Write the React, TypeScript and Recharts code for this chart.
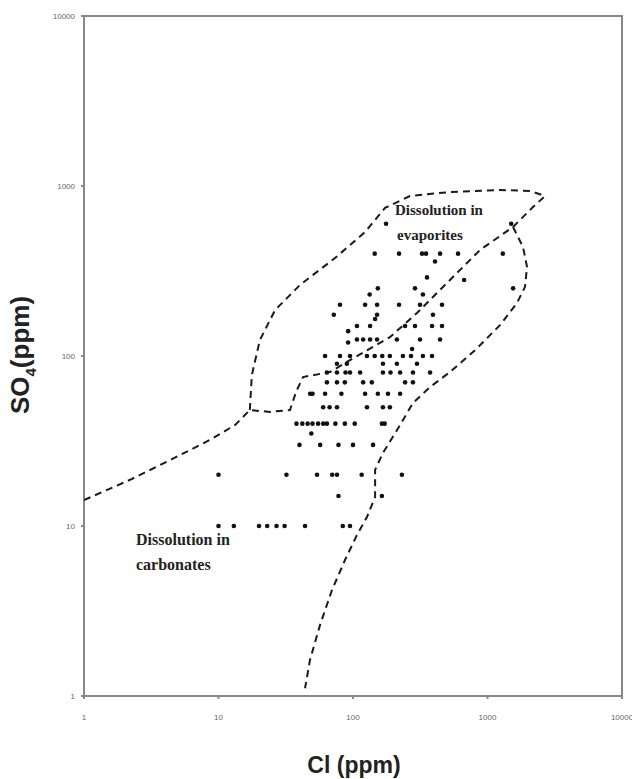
import React from "react"
import { ScatterChart, Scatter, XAxis, YAxis, ReferenceArea } from "recharts"

// sulfate level (ppm) -> chloride values (ppm) measured at that level
const sampleRows: [number, number[]][] = [
  [600, [176, 1500]],
  [400, [145, 220, 326, 349, 444, 604, 1300]],
  [360, [407]],
  [290, [355]],
  [280, [670]],
  [250, [153, 289, 1550]],
  [230, [133, 331]],
  [200, [80, 123, 151, 220, 315, 459]],
  [175, [72, 151, 393]],
  [165, [146]],
  [150, [107, 134, 244, 289, 387, 459]],
  [140, [92]],
  [125, [107, 119, 134, 151, 212, 315, 444]],
  [120, [92]],
  [110, [275]],
  [100, [62, 80, 95, 127, 145, 165, 188, 235, 270, 331, 387]],
  [90, [76, 90, 167, 212, 299]],
  [80, [64, 76, 88, 95, 113, 167, 190, 224, 279, 374]],
  [70, [64, 76, 87, 119, 138, 244, 279]],
  [60, [48, 50, 62, 82, 123, 153, 182, 224]],
  [50, [60, 67, 76, 127, 167, 188]],
  [40, [38, 42, 46, 50, 55, 60, 64, 74, 87, 103, 164, 172]],
  [35, [49]],
  [30, [40, 57, 78, 100, 141]],
  [20, [10, 32, 54, 70, 76, 116, 231]],
  [15, [78, 164]],
  [10, [10, 13, 20, 23, 27, 31, 44, 84, 95]],
]

// dashed field boundaries, [Cl, SO4]
const carbonateEdge: [number, number][] = [
  [1, 14.2], [2.2, 18.7], [4.36, 24.4], [8.65, 32.1], [13.3, 39.3], [17.1, 48.1],
  [24.1, 46.9], [34, 48.1], [37.7, 61.4], [42.5, 75.2], [67.5, 80.5], [95, 94.7],
  [188, 129], [299, 179], [526, 280], [879, 420], [1548, 574], [2178, 752], [2677, 873],
]
const evaporiteTop: [number, number][] = [
  [17.1, 48.1], [17.7, 77.3], [20.3, 124], [26.3, 186], [40.4, 262], [73.5, 377],
  [123, 536], [173, 743], [265, 873], [526, 922], [1239, 947], [2070, 935], [2677, 873],
]
const evaporiteRight: [number, number][] = [
  [1548, 574], [1837, 438], [1968, 334], [1900, 255], [1657, 205], [1239, 152],
  [807, 108], [526, 80.5], [374, 65.7], [279, 52.9], [224, 39.3], [167, 26.9],
  [146, 21.4], [146, 14.8], [127, 11.3], [107, 8.85], [87.2, 6.31], [69.8, 4.2],
  [56.9, 2.62], [47.9, 1.63], [44, 1.11],
]

const logTicks = [1, 10, 100, 1000, 10000]

const points = sampleRows.flatMap(([so4, cls]) => cls.map((cl) => ({ x: cl, y: so4 })))
const toXY = (arr: [number, number][]) => arr.map(([x, y]) => ({ x, y }))

const dot = (p: any) => <circle cx={p.cx} cy={p.cy} r={2.3} fill="#111" />
const noDot = () => <g />
const dash = { stroke: "#1a1a1a", strokeWidth: 2, strokeDasharray: "7 5" }
const tickStyle = { fontSize: 8, fill: "#666", fontFamily: "Liberation Sans, Arial" }

const serifLabel: React.CSSProperties = {
  position: "absolute",
  fontFamily: "Liberation Serif, Times New Roman, serif",
  fontWeight: "bold",
  color: "#222",
  lineHeight: 1,
  whiteSpace: "nowrap",
}

export default function App() {
  return (
    <div style={{ position: "absolute", left: 0, top: 0, width: 632, height: 779, background: "#fff" }}>
      <ScatterChart width={632} height={779} margin={{ top: 16, right: 10, left: 0, bottom: 0 }}>
        <XAxis
          type="number"
          dataKey="x"
          scale="log"
          domain={[1, 10000]}
          ticks={logTicks}
          allowDataOverflow
          height={83}
          tick={tickStyle}
          tickSize={3}
          tickMargin={15}
          stroke="#888"
          strokeWidth={2}
        />
        <YAxis
          type="number"
          dataKey="y"
          scale="log"
          domain={[1, 10000]}
          ticks={logTicks}
          allowDataOverflow
          width={84}
          tick={tickStyle}
          tickSize={3}
          tickMargin={6}
          stroke="#888"
          strokeWidth={2}
        />
        <ReferenceArea x1={1} x2={10000} y1={1} y2={10000} fill="none" stroke="#888" strokeWidth={2} ifOverflow="visible" />
        <Scatter data={toXY(carbonateEdge)} shape={noDot} line={dash} lineJointType="linear" isAnimationActive={false} />
        <Scatter data={toXY(evaporiteTop)} shape={noDot} line={dash} lineJointType="linear" isAnimationActive={false} />
        <Scatter data={toXY(evaporiteRight)} shape={noDot} line={dash} lineJointType="linear" isAnimationActive={false} />
        <Scatter data={points} shape={dot} isAnimationActive={false} />
      </ScatterChart>

      <div style={{ ...serifLabel, left: 395, top: 203, fontSize: 15 }}>Dissolution in</div>
      <div style={{ ...serifLabel, left: 397, top: 228, fontSize: 15 }}>evaporites</div>
      <div style={{ ...serifLabel, left: 136, top: 532, fontSize: 16 }}>Dissolution in</div>
      <div style={{ ...serifLabel, left: 136, top: 557, fontSize: 16 }}>carbonates</div>

      <div
        style={{
          position: "absolute",
          left: 354,
          top: 765,
          transform: "translate(-50%, -50%)",
          fontFamily: "Liberation Sans, Arial",
          fontSize: 23,
          fontWeight: "bold",
          color: "#222",
          whiteSpace: "nowrap",
        }}
      >
        Cl (ppm)
      </div>
      <div
        style={{
          position: "absolute",
          left: 22,
          top: 355,
          transform: "translate(-50%, -50%) rotate(-90deg)",
          fontFamily: "Liberation Sans, Arial",
          fontSize: 26,
          fontWeight: "bold",
          color: "#222",
          whiteSpace: "nowrap",
        }}
      >
        SO<sub style={{ fontSize: 15 }}>4</sub>(ppm)
      </div>
    </div>
  )
}
